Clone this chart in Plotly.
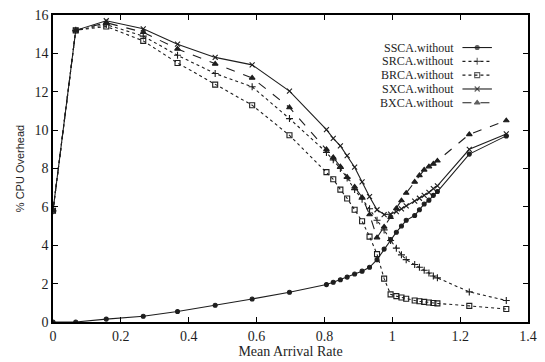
import plotly.graph_objects as go

# Mean arrival rate (shared sample points)
arrival = [0, 0.067, 0.157, 0.266, 0.367, 0.478, 0.587, 0.697, 0.806, 0.826,
           0.847, 0.867, 0.889, 0.911, 0.933, 0.955, 0.976, 0.995, 1.012, 1.027,
           1.041, 1.066, 1.080, 1.094, 1.108, 1.121, 1.133, 1.227, 1.336]

# % CPU overhead for each scheme
ssca = [0, 0, 0.15, 0.3, 0.55, 0.87, 1.2, 1.55, 1.95, 2.07,
        2.2, 2.34, 2.5, 2.65, 2.85, 3.25, 3.8, 4.3, 4.68, 5.0,
        5.3, 5.55, 5.85, 6.15, 6.35, 6.6, 6.8, 8.75, 9.7]
srca = [5.8, 15.2, 15.5, 14.9, 13.9, 12.95, 12.26, 10.6, 8.84, 8.45,
        8.0, 7.5, 6.9, 6.4, 5.9, 5.3, 4.8, 4.25, 3.85, 3.5,
        3.25, 3.0, 2.85, 2.7, 2.55, 2.4, 2.3, 1.57, 1.12]
brca = [5.8, 15.2, 15.4, 14.65, 13.5, 12.37, 11.3, 9.73, 7.81, 7.44,
        6.9, 6.44, 5.85, 5.25, 4.45, 3.54, 2.26, 1.44, 1.35, 1.28,
        1.21, 1.12, 1.08, 1.05, 1.02, 0.99, 0.97, 0.84, 0.68]
sxca = [5.8, 15.2, 15.7, 15.28, 14.48, 13.79, 13.4, 12.03, 10.03, 9.57,
        9.18, 8.67, 8.07, 7.3, 6.53, 5.85, 5.6, 5.62, 5.75, 5.9,
        6.05, 6.3, 6.45, 6.6, 6.75, 6.95, 7.1, 9.0, 9.8]
bxca = [5.8, 15.2, 15.6, 15.1, 14.23, 13.45, 12.72, 11.18, 9.0, 8.58,
        8.1, 7.55, 7.04, 6.5, 5.6, 4.4, 4.96, 5.46, 5.92, 6.33,
        6.72, 7.3, 7.64, 7.93, 8.1, 8.24, 8.4, 9.78, 10.5]

names = ["SSCA.without", "SRCA.without", "BRCA.without", "SXCA.without", "BXCA.without"]
series = [ssca, srca, brca, sxca, bxca]
dashes = ["solid", "dot", "dot", "solid", "dash"]
symbols = ["circle", "cross-thin-open", "square-open", "x-thin-open", "triangle-up"]
msizes = [4, 5, 5, 5, 5]

ink = "#1e1e1e"
serif = "Liberation Serif"

fig = go.Figure()
for name, ys, dash, sym, ms in zip(names, series, dashes, symbols, msizes):
    fig.add_trace(go.Scatter(
        x=arrival, y=ys, name=name, mode="lines+markers",
        line=dict(color=ink, width=1.1, dash=dash),
        marker=dict(symbol=sym, size=ms, color=ink,
                    line=dict(color=ink, width=1.1)),
        showlegend=False,
    ))

# Legend key: text on the left, line sample with a marker on the right
key_x0, key_x1, key_xm = 0.862, 0.924, 0.893
key_rows = [0.894, 0.849, 0.804, 0.759, 0.714]
for name, dash, sym, ms, ky in zip(names, dashes, symbols, msizes, key_rows):
    fig.add_annotation(x=0.849, y=ky, xref="paper", yref="paper", text=name,
                       showarrow=False, xanchor="right", yanchor="middle",
                       font=dict(family=serif, size=12, color=ink))
    fig.add_trace(go.Scatter(
        x=[key_x0, key_xm, key_x1], y=[ky, ky, ky], xaxis="x2", yaxis="y2",
        mode="lines+markers", line=dict(color=ink, width=1.1, dash=dash),
        marker=dict(symbol=sym, size=[0, ms, 0], color=ink,
                    line=dict(color=ink, width=1.1)),
        showlegend=False, hoverinfo="skip",
    ))

axis_common = dict(
    showline=True, linecolor="black", linewidth=1.6, mirror="ticks",
    ticks="inside", ticklen=5, tickcolor="black", tickwidth=1.2,
    showgrid=False, zeroline=False,
    tickfont=dict(family=serif, size=14, color=ink),
)

fig.update_layout(
    width=545, height=362,
    margin=dict(l=53, r=8, t=12, b=38),
    paper_bgcolor="white", plot_bgcolor="white",
    xaxis=dict(range=[0, 1.4], dtick=0.2, **axis_common,
               title=dict(text="Mean Arrival Rate", standoff=1,
                          font=dict(family=serif, size=14, color=ink))),
    yaxis=dict(range=[0, 16], dtick=2, **axis_common,
               title=dict(text="% CPU Overhead", standoff=8,
                          font=dict(family="Liberation Sans", size=11, color=ink))),
    xaxis2=dict(range=[0, 1], overlaying="x", visible=False),
    yaxis2=dict(range=[0, 1], overlaying="y", visible=False),
)

fig.write_html("out.html")
